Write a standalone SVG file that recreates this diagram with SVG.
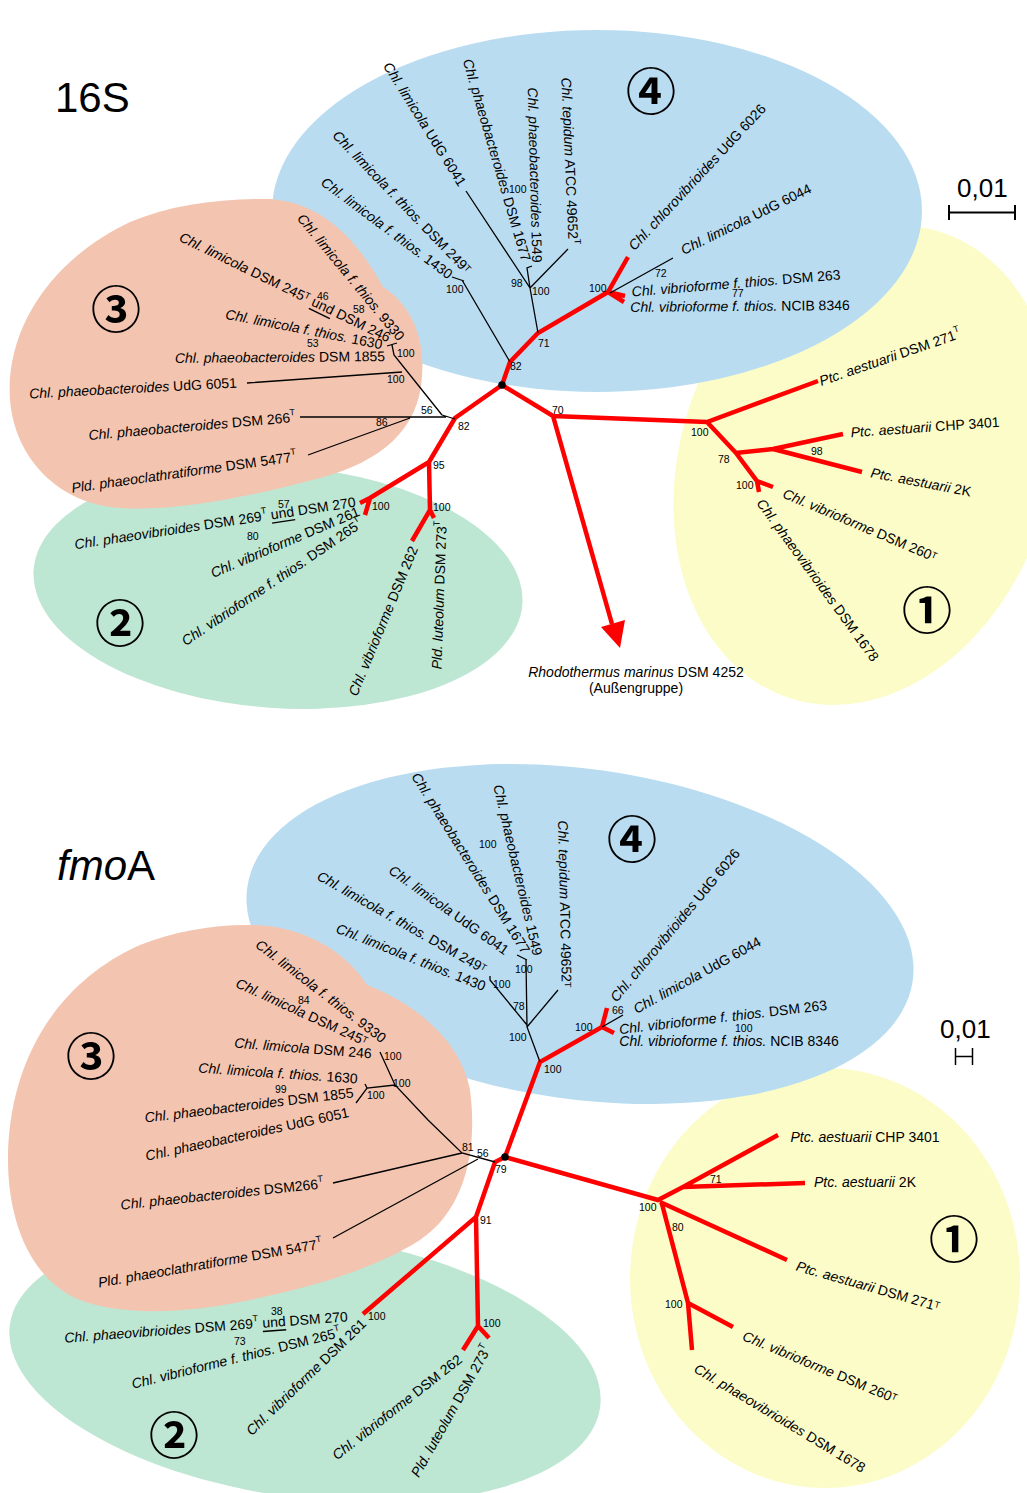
<svg xmlns="http://www.w3.org/2000/svg" width="1027" height="1493" viewBox="0 0 1027 1493">
<style>
text{font-family:"Liberation Sans",Arial,sans-serif;fill:#000}
.l{font-size:14px;text-anchor:middle;dominant-baseline:central}
.i{font-style:italic}
.s{font-size:9px}
.u{text-decoration:underline}
.b{font-size:10.5px}
.t{font-size:42px}
.sc{font-size:26px}
.red{fill:none;stroke:#ff0000;stroke-width:4.5}
.blk{fill:none;stroke:#000;stroke-width:1.3}
.bar{fill:none;stroke:#000;stroke-width:2}
.c{font-family:"Noto Sans CJK JP",sans-serif;font-size:50px;font-weight:700;text-anchor:middle;dominant-baseline:central}
.blue{fill:#b9dcf1}
.yel{fill:#fcfcc8}
.grn{fill:#bde6d3}
.sal{fill:#f3c5b0}
</style>
<rect width="1027" height="1493" fill="#fff"/>

<!-- ================= 16S ================= -->
<g id="regions-16S">
<ellipse class="yel" cx="865" cy="465" rx="185" ry="245" transform="rotate(18 865 465)"/>
<ellipse class="blue" cx="597" cy="211" rx="325" ry="181"/>
<ellipse class="grn" cx="278" cy="587" rx="245" ry="121" transform="rotate(4 278 587)"/>
<path class="sal" d="M270,199 C315,202 352,230 383,287 C412,305 425,340 422,375 C420,430 380,462 320,478 C260,494 180,512 120,508 C60,504 15,460 10,400 C5,330 50,260 130,222 C170,205 220,198 270,199 Z"/>
</g>

<g id="connectors-16S">
<path class="red" d="M502,385 L510,362 L538,333 L608,292 L628,257 M608,292 L625,296 M608,292 L624,302 M502,385 L455,418 L429,462 L370,498 L360,503 M370,498 L365,515 M429,462 L430,510 L412,541 M430,510 L434,518 M502,385 L553,416 L707,422 L818,381 M707,422 L736,453 L773,449 L843,434 M773,449 L862,472 M736,453 L757,481 L773,487 M757,481 L759,492 M553,416 L612,624"/>
<polygon points="620,648 601,627 625,620" fill="#ff0000"/>
<path class="blk" d="M510,362 L462,280 M452,277 L464,281 M538,333 L530,288 L466,191 M530,288 L568,249 M530,288 L527,268 L532,266 M610,293 L673,258 M455,419 L442,415 M300,417 L446,417 M308,455 L410,418 M442,415 L418,385 L394,355 L392,345 M387,346 L397,343 M402,372 L247,383"/>
<circle cx="502" cy="385" r="3.8" fill="#000"/>
</g>

<g id="bootstrap-16S">
<text class="b" x="510" y="370">82</text>
<text class="b" x="538" y="347">71</text>
<text class="b" x="511" y="287">98</text>
<text class="b" x="532" y="295">100</text>
<text class="b" x="509" y="193">100</text>
<text class="b" x="446" y="293">100</text>
<text class="b" x="589" y="292">100</text>
<text class="b" x="655" y="277">72</text>
<text class="b" x="732" y="297">77</text>
<text class="b" x="458" y="430">82</text>
<text class="b" x="421" y="414">56</text>
<text class="b" x="376" y="426">86</text>
<text class="b" x="387" y="383">100</text>
<text class="b" x="397" y="357">100</text>
<text class="b" x="307" y="347">53</text>
<text class="b" x="353" y="313">58</text>
<text class="b" x="317" y="300">46</text>
<text class="b" x="433" y="469">95</text>
<text class="b" x="278" y="508">57</text>
<text class="b" x="247" y="540">80</text>
<text class="b" x="372" y="510">100</text>
<text class="b" x="433" y="511">100</text>
<text class="b" x="552" y="414">70</text>
<text class="b" x="691" y="436">100</text>
<text class="b" x="718" y="463">78</text>
<text class="b" x="736" y="489">100</text>
<text class="b" x="811" y="455">98</text>
</g>

<g id="cluster4-16S">
<text class="c" x="651" y="88">④</text>
<text id="u-6041" class="l" transform="translate(425,124) rotate(58)"><tspan class="i">Chl. limicola</tspan> UdG 6041</text>
<text id="u-1677" class="l" transform="translate(497,160) rotate(73.7)"><tspan class="i">Chl. phaeobacteroides</tspan> DSM 1677</text>
<text id="u-1549" class="l" transform="translate(535,175) rotate(88.5)"><tspan class="i">Chl. phaeobacteroides</tspan> 1549</text>
<text id="u-49652" class="l" transform="translate(570,161) rotate(87.5)"><tspan class="i">Chl. tepidum</tspan> ATCC 49652<tspan class="s" dy="-4">T</tspan></text>
<text id="u-249" class="l" transform="translate(402,202) rotate(46)"><tspan class="i">Chl. limicola f. thios.</tspan> DSM 249<tspan class="s" dy="-1">T</tspan></text>
<text id="u-1430" class="l" transform="translate(387,228) rotate(36.7)"><tspan class="i">Chl. limicola f. thios.</tspan> 1430</text>
<text id="u-6026" class="l" transform="translate(697,177) rotate(-47)"><tspan class="i">Chl. chlorovibrioides</tspan> UdG 6026</text>
<text id="u-6044" class="l" transform="translate(746,219) rotate(-26)"><tspan class="i">Chl. limicola</tspan> UdG 6044</text>
<text id="u-263" class="l" transform="translate(736,283) rotate(-4.7)"><tspan class="i">Chl. vibrioforme f. thios.</tspan> DSM 263</text>
<text id="u-8346" class="l" transform="translate(740,306) rotate(-0.5)"><tspan class="i">Chl. vibrioforme f. thios.</tspan> NCIB 8346</text>
</g>

<g id="cluster1-16S">
<text class="c" x="927" y="607">①</text>
<text id="u-271" class="l" transform="translate(890,357) rotate(-19)"><tspan class="i">Ptc. aestuarii</tspan> DSM 271<tspan class="s" dy="-5">T</tspan></text>
<text id="u-3401" class="l" transform="translate(925,427) rotate(-4)"><tspan class="i">Ptc. aestuarii</tspan> CHP 3401</text>
<text id="u-2K" class="l" transform="translate(921,482) rotate(11)"><tspan class="i">Ptc. aestuarii</tspan> 2K</text>
<text id="u-260" class="l" transform="translate(860,525) rotate(23)"><tspan class="i">Chl. vibrioforme</tspan> DSM 260<tspan class="s" dy="-1">T</tspan></text>
<text id="u-1678" class="l" transform="translate(818,580) rotate(54)"><tspan class="i">Chl. phaeovibrioides</tspan> DSM 1678</text>
</g>

<g id="cluster3-16S">
<text class="c" x="116" y="306">③</text>
<text id="u-245" class="l" transform="translate(285,287) rotate(26)"><tspan class="i">Chl. limicola</tspan> DSM 245<tspan class="s" dy="-2">T</tspan><tspan dy="2"> </tspan><tspan class="u">und</tspan> DSM 246</text>
<text id="u-9330" class="l" transform="translate(351,277) rotate(50.5)"><tspan class="i">Chl. limicola f. thios.</tspan> 9330</text>
<text id="u-1630" class="l" transform="translate(304,329) rotate(11)"><tspan class="i">Chl. limicola f. thios.</tspan> 1630</text>
<text id="u-1855" class="l" transform="translate(280,357) rotate(-0.5)"><tspan class="i">Chl. phaeobacteroides</tspan> DSM 1855</text>
<text id="u-6051" class="l" transform="translate(133,388) rotate(-3)"><tspan class="i">Chl. phaeobacteroides</tspan> UdG 6051</text>
<text id="u-266" class="l" transform="translate(192,426) rotate(-5)"><tspan class="i">Chl. phaeobacteroides</tspan> DSM 266<tspan class="s" dy="-5">T</tspan></text>
<text id="u-5477" class="l" transform="translate(184,472) rotate(-8)"><tspan class="i">Pld. phaeoclathratiforme</tspan> DSM 5477<tspan class="s" dy="-5">T</tspan></text>
</g>

<g id="cluster2-16S">
<text class="c" x="120" y="620">②</text>
<text id="u-269" class="l" transform="translate(215,523) rotate(-8.6)"><tspan class="i">Chl. phaeovibrioides</tspan> DSM 269<tspan class="s" dy="-5">T</tspan><tspan dy="5"> </tspan><tspan class="u">und</tspan> DSM 270</text>
<text id="u-261" class="l" transform="translate(285,542) rotate(-23)"><tspan class="i">Chl. vibrioforme</tspan> DSM 261</text>
<text id="u-265" class="l" transform="translate(272,582) rotate(-34)"><tspan class="i">Chl. vibrioforme f. thios.</tspan> DSM 265<tspan class="s" dy="-5">T</tspan></text>
<text id="u-262" class="l" transform="translate(383,621) rotate(-67.5)"><tspan class="i">Chl. vibrioforme</tspan> DSM 262</text>
<text id="u-273" class="l" transform="translate(439,595) rotate(-88)"><tspan class="i">Pld. luteolum</tspan> DSM 273<tspan class="s" dy="-5">T</tspan></text>
</g>

<g id="outgroup-16S">
<text class="l" x="636" y="672"><tspan class="i">Rhodothermus marinus</tspan> DSM 4252</text>
<text class="l" x="636" y="688">(Außengruppe)</text>
</g>

<g id="title-16S">
<text class="t" x="55" y="112">16S</text>
<text class="sc" x="957" y="197">0,01</text>
<path class="bar" d="M949,212.5 H1015 M949,205 V220 M1015,205 V220"/>
</g>

<!-- ================= fmoA ================= -->
<g id="regions-fmoA">
<ellipse class="yel" cx="825" cy="1278" rx="195" ry="210"/>
<ellipse class="blue" cx="580" cy="934" rx="336" ry="165" transform="rotate(8 580 934)"/>
<ellipse class="grn" cx="305" cy="1366" rx="298" ry="132" transform="rotate(8 305 1366)"/>
<path class="sal" d="M247,925 C300,924 345,950 367,985 C420,1005 462,1045 470,1090 C478,1150 465,1210 420,1240 C370,1272 300,1290 240,1302 C180,1314 120,1315 80,1300 C30,1280 8,1220 8,1160 C8,1070 50,985 140,945 C172,932 210,925 247,925 Z"/>
</g>

<g id="connectors-fmoA">
<path class="red" d="M505,1157 L540,1062 L602,1027 L607,1008 M602,1027 L614,1033 M505,1157 L495,1162 L476,1217 L363,1314 M476,1217 L478,1326 L463,1350 M478,1326 L489,1338 M505,1157 L658,1200 L683,1187 L778,1135 M683,1187 L805,1183 M660,1202 L787,1260 M662,1204 L688,1303 L692,1350 M688,1303 L733,1327"/>
<path class="blk" d="M540,1062 L527,1027 L558,990 M527,1027 L526,960 M517,955 L527,960 M527,1025 L490,980 L490,976 M602,1027 L623,1015 M495,1162 L462,1153 L428,1120 L395,1085 L380,1052 M395,1085 L367,1088 L356,1103 M367,1088 L365,1084 M462,1153 L333,1183 M478,1159 L333,1238"/>
<circle cx="505" cy="1157" r="3.8" fill="#000"/>
</g>

<g id="bootstrap-fmoA">
<text class="b" x="479" y="848">100</text>
<text class="b" x="515" y="973">100</text>
<text class="b" x="493" y="988">100</text>
<text class="b" x="513" y="1010">78</text>
<text class="b" x="509" y="1041">100</text>
<text class="b" x="544" y="1073">100</text>
<text class="b" x="575" y="1031">100</text>
<text class="b" x="612" y="1014">66</text>
<text class="b" x="735" y="1032">100</text>
<text class="b" x="298" y="1004">84</text>
<text class="b" x="384" y="1060">100</text>
<text class="b" x="393" y="1087">100</text>
<text class="b" x="367" y="1099">100</text>
<text class="b" x="275" y="1093">99</text>
<text class="b" x="462" y="1151">81</text>
<text class="b" x="477" y="1157">56</text>
<text class="b" x="495" y="1173">79</text>
<text class="b" x="480" y="1224">91</text>
<text class="b" x="368" y="1320">100</text>
<text class="b" x="483" y="1327">100</text>
<text class="b" x="271" y="1315">38</text>
<text class="b" x="234" y="1345">73</text>
<text class="b" x="639" y="1211">100</text>
<text class="b" x="665" y="1308">100</text>
<text class="b" x="672" y="1231">80</text>
<text class="b" x="710" y="1183">71</text>
</g>

<g id="cluster4-fmoA">
<text class="c" x="632" y="836">④</text>
<text id="f-1677" class="l" transform="translate(471,863) rotate(58)"><tspan class="i">Chl. phaeobacteroides</tspan> DSM 1677</text>
<text id="f-1549" class="l" transform="translate(518,870) rotate(76.8)"><tspan class="i">Chl. phaeobacteroides</tspan> 1549</text>
<text id="f-49652" class="l" transform="translate(565,904) rotate(88.7)"><tspan class="i">Chl. tepidum</tspan> ATCC 49652<tspan class="s" dy="-1">T</tspan></text>
<text id="f-6041" class="l" transform="translate(449,910) rotate(35.4)"><tspan class="i">Chl. limicola</tspan> UdG 6041</text>
<text id="f-249" class="l" transform="translate(402,922) rotate(29.6)"><tspan class="i">Chl. limicola f. thios.</tspan> DSM 249<tspan class="s" dy="-1">T</tspan></text>
<text id="f-1430" class="l" transform="translate(411,957) rotate(21.7)"><tspan class="i">Chl. limicola f. thios.</tspan> 1430</text>
<text id="f-6026" class="l" transform="translate(675,925) rotate(-50.2)"><tspan class="i">Chl. chlorovibrioides</tspan> UdG 6026</text>
<text id="f-6044" class="l" transform="translate(697,975) rotate(-28.9)"><tspan class="i">Chl. limicola</tspan> UdG 6044</text>
<text id="f-263" class="l" transform="translate(723,1017) rotate(-6.7)"><tspan class="i">Chl. vibrioforme f. thios.</tspan> DSM 263</text>
<text id="f-8346" class="l" transform="translate(729,1041)"><tspan class="i">Chl. vibrioforme f. thios.</tspan> NCIB 8346</text>
</g>

<g id="cluster3-fmoA">
<text class="c" x="91" y="1053">③</text>
<text id="f-9330" class="l" transform="translate(321,991) rotate(37.4)"><tspan class="i">Chl. limicola f. thios.</tspan> 9330</text>
<text id="f-245" class="l" transform="translate(302,1012) rotate(24.6)"><tspan class="i">Chl. limicola</tspan> DSM 245<tspan class="s" dy="-1">T</tspan></text>
<text id="f-246" class="l" transform="translate(303,1048) rotate(4.5)"><tspan class="i">Chl. limicola</tspan> DSM 246</text>
<text id="f-1630" class="l" transform="translate(278,1073) rotate(3.9)"><tspan class="i">Chl. limicola f. thios.</tspan> 1630</text>
<text id="f-1855" class="l" transform="translate(249,1105) rotate(-6.9)"><tspan class="i">Chl. phaeobacteroides</tspan> DSM 1855</text>
<text id="f-6051" class="l" transform="translate(247,1134) rotate(-12.2)"><tspan class="i">Chl. phaeobacteroides</tspan> UdG 6051</text>
<text id="f-266" class="l" transform="translate(222,1194) rotate(-6)"><tspan class="i">Chl. phaeobacteroides</tspan> DSM266<tspan class="s" dy="-5">T</tspan></text>
<text id="f-5477" class="l" transform="translate(210,1263) rotate(-9.9)"><tspan class="i">Pld. phaeoclathratiforme</tspan> DSM 5477<tspan class="s" dy="-5">T</tspan></text>
</g>

<g id="cluster2-fmoA">
<text class="c" x="174" y="1432">②</text>
<text id="f-269" class="l" transform="translate(206,1327) rotate(-4.3)"><tspan class="i">Chl. phaeovibrioides</tspan> DSM 269<tspan class="s" dy="-5">T</tspan><tspan dy="5"> </tspan><tspan class="u">und</tspan> DSM 270</text>
<text id="f-265" class="l" transform="translate(236,1358) rotate(-14)"><tspan class="i">Chl. vibrioforme f. thios.</tspan> DSM 265<tspan class="s" dy="-5">T</tspan></text>
<text id="f-261" class="l" transform="translate(306,1377) rotate(-44)"><tspan class="i">Chl. vibrioforme</tspan> DSM 261</text>
<text id="f-262" class="l" transform="translate(397,1407) rotate(-38.2)"><tspan class="i">Chl. vibrioforme</tspan> DSM 262</text>
<text id="f-273" class="l" transform="translate(451,1411) rotate(-60.6)"><tspan class="i">Pld. luteolum</tspan> DSM 273<tspan class="s" dy="-5">T</tspan></text>
</g>

<g id="cluster1-fmoA">
<text class="c" x="954" y="1236">①</text>
<text id="f-3401" class="l" x="865" y="1137"><tspan class="i">Ptc. aestuarii</tspan> CHP 3401</text>
<text id="f-2K" class="l" x="865" y="1182"><tspan class="i">Ptc. aestuarii</tspan> 2K</text>
<text id="f-271" class="l" transform="translate(868,1286) rotate(16)"><tspan class="i">Ptc. aestuarii</tspan> DSM 271<tspan class="s" dy="-1">T</tspan></text>
<text id="f-260" class="l" transform="translate(820,1367) rotate(22.6)"><tspan class="i">Chl. vibrioforme</tspan> DSM 260<tspan class="s" dy="-1">T</tspan></text>
<text id="f-1678" class="l" transform="translate(780,1418) rotate(31.1)"><tspan class="i">Chl. phaeovibrioides</tspan> DSM 1678</text>
</g>

<g id="title-fmoA">
<text class="t" x="57" y="880"><tspan class="i">fmo</tspan>A</text>
<text class="sc" x="940" y="1038">0,01</text>
<path class="bar" d="M955.5,1048 V1065 M972.5,1048 V1065 M955.5,1056.5 H972.5" style="stroke-width:1.5"/>
</g>
</svg>
